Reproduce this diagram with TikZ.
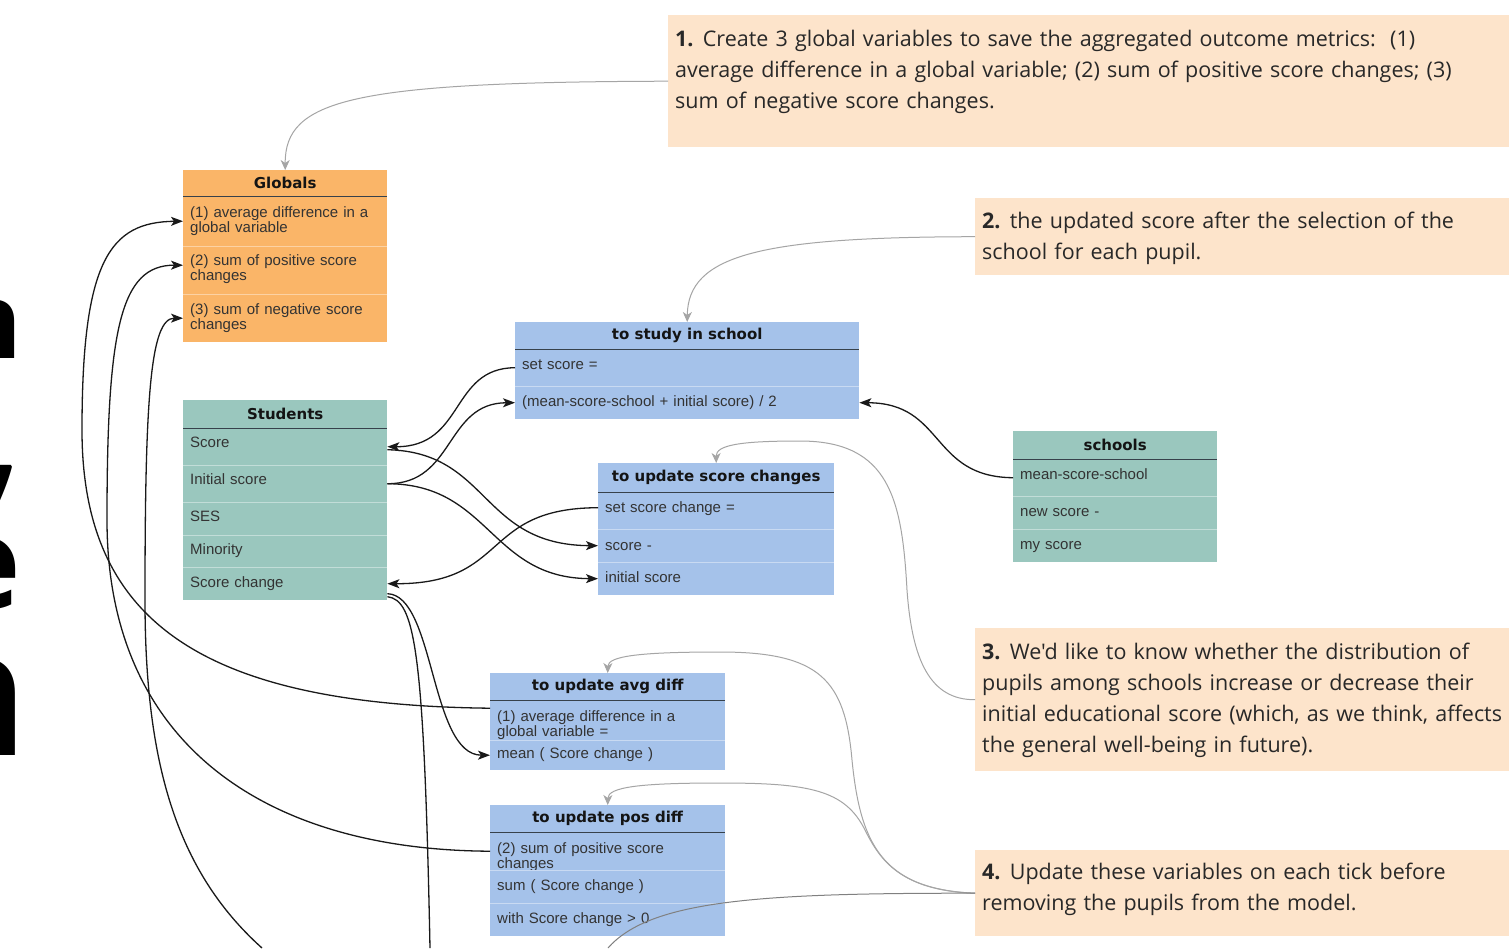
\documentclass[tikz,border=0pt]{standalone}
\usepackage{fontspec}
\setmainfont{Liberation Sans}
\newfontfamily\rowf{Liberation Sans}
\newfontfamily\ttlf{DejaVu Sans}
\newfontfamily\notef{Open Sans}
\newfontfamily\bigf{Open Sans}
\usetikzlibrary{arrows.meta}
\definecolor{orgC}{RGB}{250,181,104}
\definecolor{tealC}{RGB}{154,199,190}
\definecolor{blueC}{RGB}{165,194,234}
\definecolor{peachC}{RGB}{253,228,203}
\definecolor{txtC}{RGB}{51,51,51}
\definecolor{ttlC}{RGB}{20,20,20}
\definecolor{lineC}{RGB}{55,65,75}
\definecolor{noteC}{RGB}{40,40,40}
\definecolor{blkC}{RGB}{25,25,25}
\definecolor{gryC}{RGB}{165,165,165}
\newcommand{\nb}[1]{\textbf{#1}\kern-1.5pt\relax}
\begin{document}
\begin{tikzpicture}[x=1pt,y=-1pt,
  ttl/.style={anchor=north west, inner sep=0pt, font=\ttlf\bfseries\fontsize{15}{15}\selectfont, text=ttlC, align=center},
  row/.style={anchor=north west, inner xsep=7pt, inner ysep=0pt, align=left, font=\rowf\fontsize{15}{15.5}\selectfont, text=txtC},
  note/.style={anchor=north west, inner xsep=7pt, inner ysep=0pt, align=left, fill=peachC, font=\notef\fontsize{21.5}{31}\selectfont, text=noteC},
  tline/.style={draw=lineC, line width=1.5pt},
  sepl/.style={draw=white, draw opacity=0.4, line width=0.8pt},
  bline/.style={draw=blkC, line width=1.3pt},
  bl/.style={bline, -{Stealth[length=12pt,width=9pt,inset=3pt]}},
  gline/.style={draw=gryC, line width=1pt},
  ga/.style={gline, -{Stealth[length=10pt,width=9pt,inset=3pt]}},
  big/.style={anchor=base east, inner sep=0pt, text=black}
]
\useasboundingbox (0,0) rectangle (1509,948);
\fill[white] (0,0) rectangle (1509,948);

% clipped large glyphs at left edge
\node[big, font=\bigf\bfseries\fontsize{105}{105}\selectfont] (g1) at (23,358) {n};
\node[big, font=\bigf\bfseries\fontsize{165}{165}\selectfont] (g2) at (24,484) {,};
\node[big, font=\bigf\bfseries\fontsize{128}{128}\selectfont] (g3) at (21,608) {e};
\node[big, font=\bigf\bfseries\fontsize{175}{175}\selectfont] (g4) at (29,755) {n};

% Globals
\node[ttl, fill=orgC, minimum width=204pt, minimum height=26pt] (glT) at (183,170) {Globals};
\node[row, fill=orgC, text width=190pt, text height=21pt, text depth=29pt] (gl1) at (183,196) {(1) average difference in a\\global variable};
\node[row, fill=orgC, text width=190pt, text height=19pt, text depth=29pt] (gl2) at (183,246) {(2) sum of positive score\\changes};
\node[row, fill=orgC, text width=190pt, text height=20pt, text depth=28pt] (gl3) at (183,294) {(3) sum of negative score\\changes};
\draw[tline] (glT.south west) -- (glT.south east);
\draw[sepl] (gl1.south west) -- (gl1.south east);
\draw[sepl] (gl2.south west) -- (gl2.south east);

% Students
\node[ttl, fill=tealC, minimum width=204pt, minimum height=28pt] (suT) at (183,400) {Students};
\node[row, fill=tealC, text width=190pt, text height=19pt, text depth=18pt] (suS) at (183,428) {Score};
\node[row, fill=tealC, text width=190pt, text height=19pt, text depth=18pt] (suI) at (183,465) {Initial score};
\node[row, fill=tealC, text width=190pt, text height=19pt, text depth=14pt] (suSES) at (183,502) {SES};
\node[row, fill=tealC, text width=190pt, text height=19pt, text depth=13pt] (suM) at (183,535) {Minority};
\node[row, fill=tealC, text width=190pt, text height=20pt, text depth=13pt] (suC) at (183,567) {Score change};
\draw[tline] (suT.south west) -- (suT.south east);
\foreach \r in {suS,suI,suSES,suM} \draw[sepl] (\r.south west) -- (\r.south east);

% to study in school
\node[ttl, fill=blueC, minimum width=344pt, minimum height=27pt] (stT) at (515,322) {to study in school};
\node[row, fill=blueC, text width=330pt, text height=20pt, text depth=17pt] (st1) at (515,349) {set score =};
\node[row, fill=blueC, text width=330pt, text height=20pt, text depth=13pt] (st2) at (515,386) {(mean-score-school + initial score) / 2};
\draw[tline] (stT.south west) -- (stT.south east);
\draw[sepl] (st1.south west) -- (st1.south east);

% to update score changes
\node[ttl, fill=blueC, minimum width=236pt, minimum height=29pt] (scT) at (598,463) {to update score changes};
\node[row, fill=blueC, text width=222pt, text height=20pt, text depth=17pt] (sc1) at (598,492) {set score change =};
\node[row, fill=blueC, text width=222pt, text height=21pt, text depth=12pt] (sc2) at (598,529) {score -};
\node[row, fill=blueC, text width=222pt, text height=20pt, text depth=13pt] (sc3) at (598,562) {initial score};
\draw[tline] (scT.south west) -- (scT.south east);
\draw[sepl] (sc1.south west) -- (sc1.south east);
\draw[sepl] (sc2.south west) -- (sc2.south east);

% schools
\node[ttl, fill=tealC, minimum width=204pt, minimum height=28pt] (ssT) at (1013,431) {schools};
\node[row, fill=tealC, text width=190pt, text height=20pt, text depth=17pt] (ss1) at (1013,459) {mean-score-school};
\node[row, fill=tealC, text width=190pt, text height=20pt, text depth=13pt] (ss2) at (1013,496) {new score -};
\node[row, fill=tealC, text width=190pt, text height=20pt, text depth=13pt] (ss3) at (1013,529) {my score};
\draw[tline] (ssT.south west) -- (ssT.south east);
\draw[sepl] (ss1.south west) -- (ss1.south east);
\draw[sepl] (ss2.south west) -- (ss2.south east);

% to update avg diff
\node[ttl, fill=blueC, minimum width=235pt, minimum height=27pt] (avT) at (490,673) {to update avg diff};
\node[row, fill=blueC, text width=221pt, text height=21pt, text depth=19pt] (av1) at (490,700) {(1) average difference in a\\global variable =};
\node[row, fill=blueC, text width=221pt, text height=18pt, text depth=12pt] (av2) at (490,740) {mean ( Score change )};
\draw[tline] (avT.south west) -- (avT.south east);
\draw[sepl] (av1.south west) -- (av1.south east);

% to update pos diff
\node[ttl, fill=blueC, minimum width=235pt, minimum height=27pt] (pdT) at (490,805) {to update pos diff};
\node[row, fill=blueC, text width=221pt, text height=21pt, text depth=17pt] (pd1) at (490,832) {(2) sum of positive score\\changes};
\node[row, fill=blueC, text width=221pt, text height=20pt, text depth=13pt] (pd2) at (490,870) {sum ( Score change )};
\node[row, fill=blueC, text width=221pt, text height=20pt, text depth=13pt] (pd3) at (490,903) {with Score change > 0};
\draw[tline] (pdT.south west) -- (pdT.south east);
\draw[sepl] (pd1.south west) -- (pd1.south east);
\draw[sepl] (pd2.south west) -- (pd2.south east);

% notes
\node[note, text width=827pt, text height=31pt, text depth=101pt] (n1) at (668,15)
  {\mbox{\nb{1.} Create 3 global variables to save the aggregated outcome metrics:\ \ (1)}\\
   \mbox{average difference in a global variable; (2) sum of positive score changes; (3)}\\
   \mbox{sum of negative score changes.}};
\node[note, text width=520pt, text height=30pt, text depth=47pt] (n2) at (975,198)
  {\mbox{\nb{2.} the updated score after the selection of the}\\
   \mbox{school for each pupil.}};
\node[note, text width=520pt, text height=31pt, text depth=112pt] (n3) at (975,628)
  {\mbox{\nb{3.} We'd like to know whether the distribution of}\\
   \mbox{pupils among schools increase or decrease their}\\
   \mbox{initial educational score (which, as we think, affects}\\
   \mbox{the general well-being in future).}};
\node[note, text width=520pt, text height=29pt, text depth=57pt] (n4) at (975,850)
  {\mbox{\nb{4.} Update these variables on each tick before}\\
   \mbox{removing the pupils from the model.}};

% gray connectors from notes
\draw[ga] (n1.west) .. controls (350,82) and (285,100) .. (glT.north);
\draw[ga] (n2.west) .. controls (760,237) and (688,255) .. (stT.north);
\draw[ga] (n3.west) .. controls (930,700) and (912,660) .. (907,590) .. controls (902,500) and (890,441) .. (800,441) .. controls (740,441) and (716,445) .. (scT.north);
\draw[ga] (n4.west) .. controls (880,890) and (860,840) .. (852,760) .. controls (845,680) and (820,652) .. (720,652) .. controls (640,652) and (608,656) .. (avT.north);
\draw[ga] (n4.west) .. controls (900,890) and (880,860) .. (865,830) .. controls (845,790) and (810,783) .. (720,783) .. controls (640,783) and (608,787) .. (pdT.north);
\coordinate (offN) at (608,948);
\draw[gline, draw=gray] (n4.west) .. controls (760,893) and (650,900) .. (offN);

% black connectors
\draw[bl] (st1.west) .. controls (450,368) and (465,447) .. (suS.east);
\draw[bl] (suI.east) .. controls (455,484) and (445,403) .. (st2.west);
\draw[bl] ([yshift=-3pt]suS.east) .. controls (490,452) and (480,545) .. (sc2.west);
\draw[bl] (suI.east) .. controls (490,484) and (490,578) .. (sc3.west);
\draw[bl] ([yshift=3pt]sc1.west) .. controls (480,508) and (510,584) .. (suC.east);
\draw[bl] (ss1.west) .. controls (930,477) and (945,403) .. (st2.east);
\draw[bl] ([yshift=-10pt]suC.east) .. controls (435,595) and (430,755) .. (av2.west);
\coordinate (offA) at (430,948);
\draw[bline] ([yshift=-13pt]suC.east) .. controls (415,600) and (424,650) .. (offA);
\draw[bl] ([yshift=12pt]av1.west) .. controls (200,705) and (82,620) .. (82,430) .. controls (82,260) and (110,222) .. (gl1.west);
\draw[bl] (pd1.west) .. controls (260,850) and (107,740) .. (107,520) .. controls (107,330) and (120,265) .. ([yshift=5pt]gl2.west);
\coordinate (offB) at (262,948);
\draw[bl] (offB) .. controls (175,870) and (145,760) .. (145,600) .. controls (145,400) and (150,318) .. (gl3.west);
\end{tikzpicture}
\end{document}
